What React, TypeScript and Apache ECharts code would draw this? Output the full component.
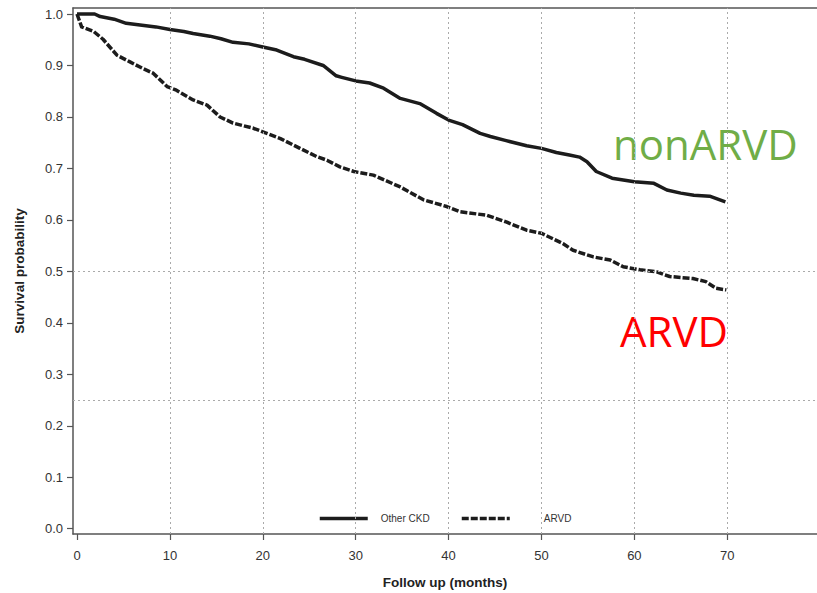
import React, { useEffect, useRef } from "react";
import * as echarts from "echarts";

// Kaplan-Meier curves: [months, survival probability]
const otherCkd: [number, number][] = [
  [0, 1.0], [1.9, 1.0], [2.5, 0.995], [4, 0.99], [5.3, 0.982], [7, 0.978], [8.5, 0.975],
  [10, 0.97], [11.5, 0.966], [12.5, 0.962], [14.3, 0.957], [15.5, 0.952], [16.8, 0.945],
  [18.5, 0.942], [20, 0.936], [21.5, 0.93], [23.3, 0.917], [24.5, 0.912], [26.5, 0.9],
  [27.9, 0.88], [28.5, 0.877], [30, 0.87], [31.5, 0.866], [33, 0.856], [34.8, 0.836],
  [36.9, 0.826], [38.7, 0.807], [40, 0.794], [41.5, 0.785], [43.4, 0.768], [44.5, 0.762],
  [46.2, 0.754], [48.4, 0.744], [50, 0.739], [51.6, 0.731], [53, 0.726], [54.1, 0.722],
  [54.9, 0.713], [55.9, 0.694], [57.6, 0.681], [60, 0.674], [62.1, 0.671], [63.5, 0.658],
  [65, 0.652], [66.4, 0.648], [68.1, 0.646], [69.8, 0.635],
];

const arvd: [number, number][] = [
  [0, 1.0], [0.5, 0.975], [1.8, 0.966], [2.8, 0.951], [4.3, 0.92], [5.7, 0.907], [7.1, 0.894],
  [8.2, 0.885], [9.7, 0.859], [10.7, 0.852], [12.5, 0.833], [14, 0.823], [15.4, 0.8],
  [16.8, 0.788], [19, 0.778], [20, 0.771], [21.9, 0.758], [24, 0.739], [25.8, 0.723],
  [26.9, 0.716], [28.3, 0.703], [29.8, 0.694], [31.9, 0.687], [34.8, 0.664], [37.3, 0.639],
  [39.8, 0.626], [41.2, 0.616], [44.1, 0.609], [46.2, 0.596], [48.4, 0.58], [50, 0.574],
  [52.3, 0.554], [53.4, 0.541], [55.6, 0.528], [57.4, 0.522], [58.8, 0.509], [60.6, 0.503],
  [62.4, 0.499], [63.8, 0.49], [66.3, 0.486], [67.7, 0.48], [68.8, 0.467], [69.9, 0.464],
];

const xTicks = [0, 10, 20, 30, 40, 50, 60, 70];
const xGridLines = [10, 20, 30, 40, 50, 60, 70];
const yTicks = [0, 0.1, 0.2, 0.3, 0.4, 0.5, 0.6, 0.7, 0.8, 0.9, 1.0];
const yRefLines = [0.5, 0.25];

const seriesNames = ["Other CKD", "ARVD"];
const annotations = ["nonARVD", "ARVD"];

export default function App() {
  const ref = useRef<HTMLDivElement>(null);

  useEffect(() => {
    if (!ref.current) return;
    const chart = echarts.init(ref.current, null, { renderer: "svg" });
    const axisColor = "#555";
    const labelFont = "'Liberation Sans', Arial, Helvetica, sans-serif";

    const legendBase = {
      top: 513,
      padding: 0,
      itemWidth: 48,
      itemHeight: 14,
      itemStyle: { opacity: 0, borderWidth: 0 },
      lineStyle: { width: 3.5 },
    };

    chart.setOption({
      animation: false,
      backgroundColor: "#fff",
      grid: {
        left: 73,
        right: 0,
        top: 8,
        bottom: 59,
        containLabel: false,
        outerBoundsMode: "none",
      },
      xAxis: [
        {
          type: "value",
          min: -0.43,
          max: 79.66,
          position: "bottom",
          name: "Follow up (months)",
          nameLocation: "middle",
          nameGap: 41,
          nameTextStyle: {
            fontFamily: labelFont,
            fontSize: 13.5,
            fontWeight: "bold",
            color: "#222",
          },
          axisLine: { show: true, onZero: false, lineStyle: { color: axisColor, width: 1.5 } },
          axisTick: {
            show: true,
            customValues: xTicks,
            length: 6,
            lineStyle: { color: axisColor, width: 1.2 },
          },
          axisLabel: {
            customValues: xTicks,
            margin: 15,
            fontFamily: labelFont,
            fontSize: 13,
            color: "#333",
          },
          splitLine: { show: false },
        },
        {
          type: "value",
          min: -0.43,
          max: 79.66,
          position: "top",
          axisLine: { show: true, onZero: false, lineStyle: { color: axisColor, width: 1.5 } },
          axisTick: { show: false },
          axisLabel: { show: false },
          splitLine: { show: false },
        },
      ],
      yAxis: {
        type: "value",
        min: -0.0103,
        max: 1.0117,
        name: "Survival probability",
        nameLocation: "middle",
        nameGap: 47,
        nameTextStyle: {
          fontFamily: labelFont,
          fontSize: 13.5,
          fontWeight: "bold",
          color: "#222",
        },
        axisLine: { show: true, onZero: false, lineStyle: { color: axisColor, width: 1.5 } },
        axisTick: {
          show: true,
          customValues: yTicks,
          length: 6,
          lineStyle: { color: axisColor, width: 1.2 },
        },
        axisLabel: {
          customValues: yTicks,
          margin: 10,
          fontFamily: labelFont,
          fontSize: 13,
          color: "#333",
          formatter: (v: number) => v.toFixed(1),
        },
        splitLine: { show: false },
      },
      legend: [
        {
          ...legendBase,
          data: [seriesNames[0]],
          left: 318,
          textStyle: {
            fontFamily: labelFont,
            fontSize: 10,
            color: "#333",
            padding: [0, 0, 0, 8],
          },
        },
        {
          ...legendBase,
          data: [seriesNames[1]],
          left: 460,
          textStyle: {
            fontFamily: labelFont,
            fontSize: 10,
            color: "#333",
            padding: [0, 0, 0, 29],
          },
        },
      ],
      series: [
        {
          name: "grid",
          type: "line",
          data: [],
          z: 1,
          silent: true,
          markLine: {
            silent: true,
            symbol: ["none", "none"],
            label: { show: false },
            lineStyle: { color: "#aaa", width: 1, type: [2, 3] },
            data: [
              ...xGridLines.map((v) => ({ xAxis: v })),
              ...yRefLines.map((v) => ({ yAxis: v })),
            ],
          },
        },
        {
          name: seriesNames[0],
          type: "line",
          data: otherCkd,
          symbol: "none",
          z: 3,
          lineStyle: { color: "#1c1c1c", width: 3.5, type: "solid", cap: "butt", join: "round" },
          itemStyle: { color: "#1c1c1c" },
        },
        {
          name: seriesNames[1],
          type: "line",
          data: arvd,
          symbol: "none",
          z: 3,
          lineStyle: { color: "#1c1c1c", width: 3.5, type: [7, 2], cap: "butt", join: "round" },
          itemStyle: { color: "#1c1c1c" },
        },
      ],
      graphic: [
        {
          type: "text",
          x: 613,
          y: 143.5,
          style: {
            text: annotations[0],
            fontFamily: "'Open Sans', 'Noto Sans', sans-serif",
            fontSize: 42,
            fill: "#70AD47",
            textVerticalAlign: "middle",
            textAlign: "left",
          },
        },
        {
          type: "text",
          x: 620,
          y: 330,
          style: {
            text: annotations[1],
            fontFamily: "'Open Sans', 'Noto Sans', sans-serif",
            fontSize: 42,
            fill: "#FF0000",
            textVerticalAlign: "middle",
            textAlign: "left",
          },
        },
      ],
    });

    return () => chart.dispose();
  }, []);

  return (
    <div
      ref={ref}
      style={{ position: "fixed", left: 0, top: 0, width: 817, height: 593, background: "#fff" }}
    />
  );
}
